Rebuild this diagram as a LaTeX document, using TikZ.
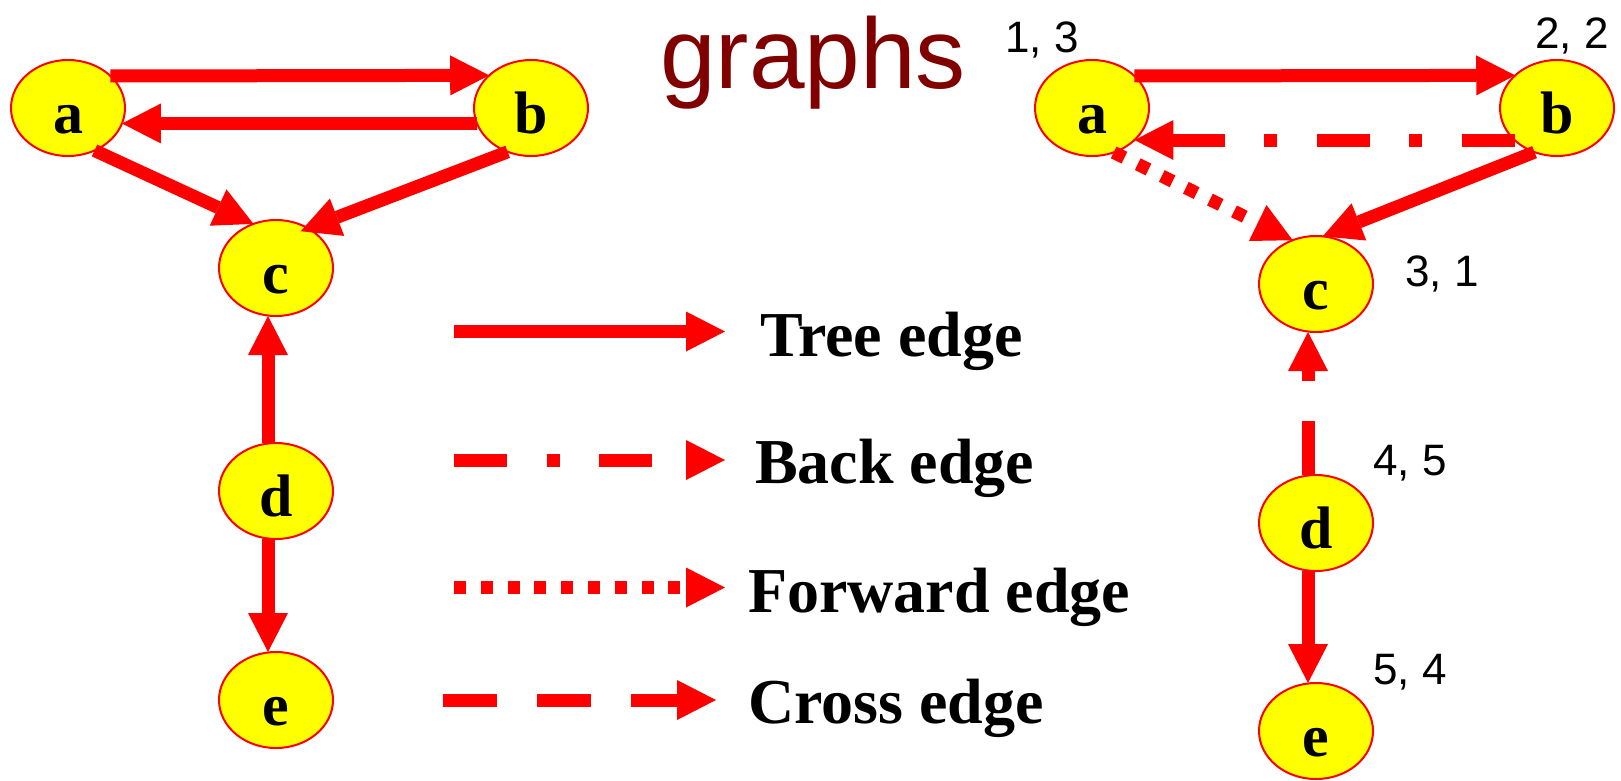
\documentclass[tikz,border=0pt]{standalone}
\usepackage{fontspec}
\setmainfont{Liberation Serif}
\newfontfamily\hvfont{Liberation Sans}
\usetikzlibrary{arrows.meta,shapes.geometric}
\definecolor{myred}{RGB}{255,0,0}
\definecolor{myyel}{RGB}{255,255,0}
\definecolor{titlered}{RGB}{128,0,0}
\begin{document}
\begin{tikzpicture}[x=1pt,y=-1pt,
  vtx/.style={ellipse, draw=myred, line width=2pt, fill=myyel,
    minimum width=114pt, minimum height=96pt, inner sep=0pt, outer sep=0pt,
    text height=50pt, text depth=0pt,
    font=\fontsize{60}{60}\selectfont\bfseries},
  edge/.style={draw=myred, line width=13pt, line cap=butt,
    -{Triangle[length=39pt,width=40pt,line width=0pt]}},
  treeedge/.style={edge},
  backedge/.style={edge, dash pattern=on 53pt off 39.5pt on 13pt off 39.5pt},
  fwdedge/.style={edge, dash pattern=on 12pt off 14.8pt},
  crossedge/.style={edge, dash pattern=on 54pt off 40pt},
  lgd/.style={anchor=base west, inner sep=0pt,
    font=\fontsize{64}{64}\selectfont\bfseries},
  num/.style={anchor=base west, inner sep=0pt,
    font=\hvfont\fontsize{44}{44}\selectfont},
]
\useasboundingbox (0,0) rectangle (1621,780);

% title
\node[anchor=base west, inner sep=0pt, text=titlered,
  font=\hvfont\fontsize{100}{100}\selectfont] (title) at (660,88) {graphs};

% left graph
\node[vtx] (la) at (68,108) {a};
\node[vtx] (lb) at (531,108) {b};
\node[vtx] (lc) at (276,268) {c};
\node[vtx] (ld) at (276,491) {d};
\node[vtx] (le) at (276,700) {e};

\draw[treeedge] (la.37.8) -- (lb.142.2);
\draw[treeedge] (lb.196) -- (la.-16);
\draw[treeedge] (la.-58) -- (lc.117);
\draw[treeedge, shorten >=-8pt] (lb.242) -- (lc.51);
\draw[treeedge] ([xshift=-8pt]ld.north) -- ([xshift=-8pt]lc.south);
\draw[treeedge] ([xshift=-8pt]ld.south) -- ([xshift=-8pt]le.north);

% right graph
\node[vtx] (ra) at (1092,108) {a};
\node[vtx] (rb) at (1557,108) {b};
\node[vtx] (rc) at (1316,284) {c};
\node[vtx] (rd) at (1316,523) {d};
\node[vtx] (re) at (1316,731) {e};

\draw[treeedge] (ra.37.8) -- (rb.142.2);
\draw[backedge] (rb.217.8) -- (ra.-37.8);
\draw[fwdedge] (ra.-64) -- (rc.118);
\draw[treeedge] (rb.-117) -- (rc.82);
\draw[crossedge] ([xshift=-8pt]rd.north) -- ([xshift=-8pt]rc.south);
\draw[treeedge] ([xshift=-8pt]rd.south) -- ([xshift=-8pt]re.north);

% discovery / finish labels
\node[num] (na) at (1005,52) {1, 3};
\node[num] (nb) at (1535,48) {2, 2};
\node[num] (nc) at (1405,286) {3, 1};
\node[num] (nd) at (1373,475) {4, 5};
\node[num] (ne) at (1373,684) {5, 4};

% legend
\coordinate (ts) at (454,331.5);
\coordinate (te) at (725,331.5);
\coordinate (bs) at (454,460);
\coordinate (be) at (725,460);
\coordinate (fs) at (454,587.5);
\coordinate (fe) at (725,587.5);
\coordinate (cs) at (443,700);
\coordinate (ce) at (716,700);
\draw[treeedge] (ts) -- (te);
\draw[backedge] (bs) -- (be);
\draw[fwdedge] (fs) -- (fe);
\draw[crossedge] (cs) -- (ce);
\node[lgd] (lt) at (760,356) {Tree edge};
\node[lgd] (lbk) at (755,483) {Back edge};
\node[lgd] (lf) at (748,612) {Forward edge};
\node[lgd] (lcr) at (748,723) {Cross edge};
\end{tikzpicture}
\end{document}
